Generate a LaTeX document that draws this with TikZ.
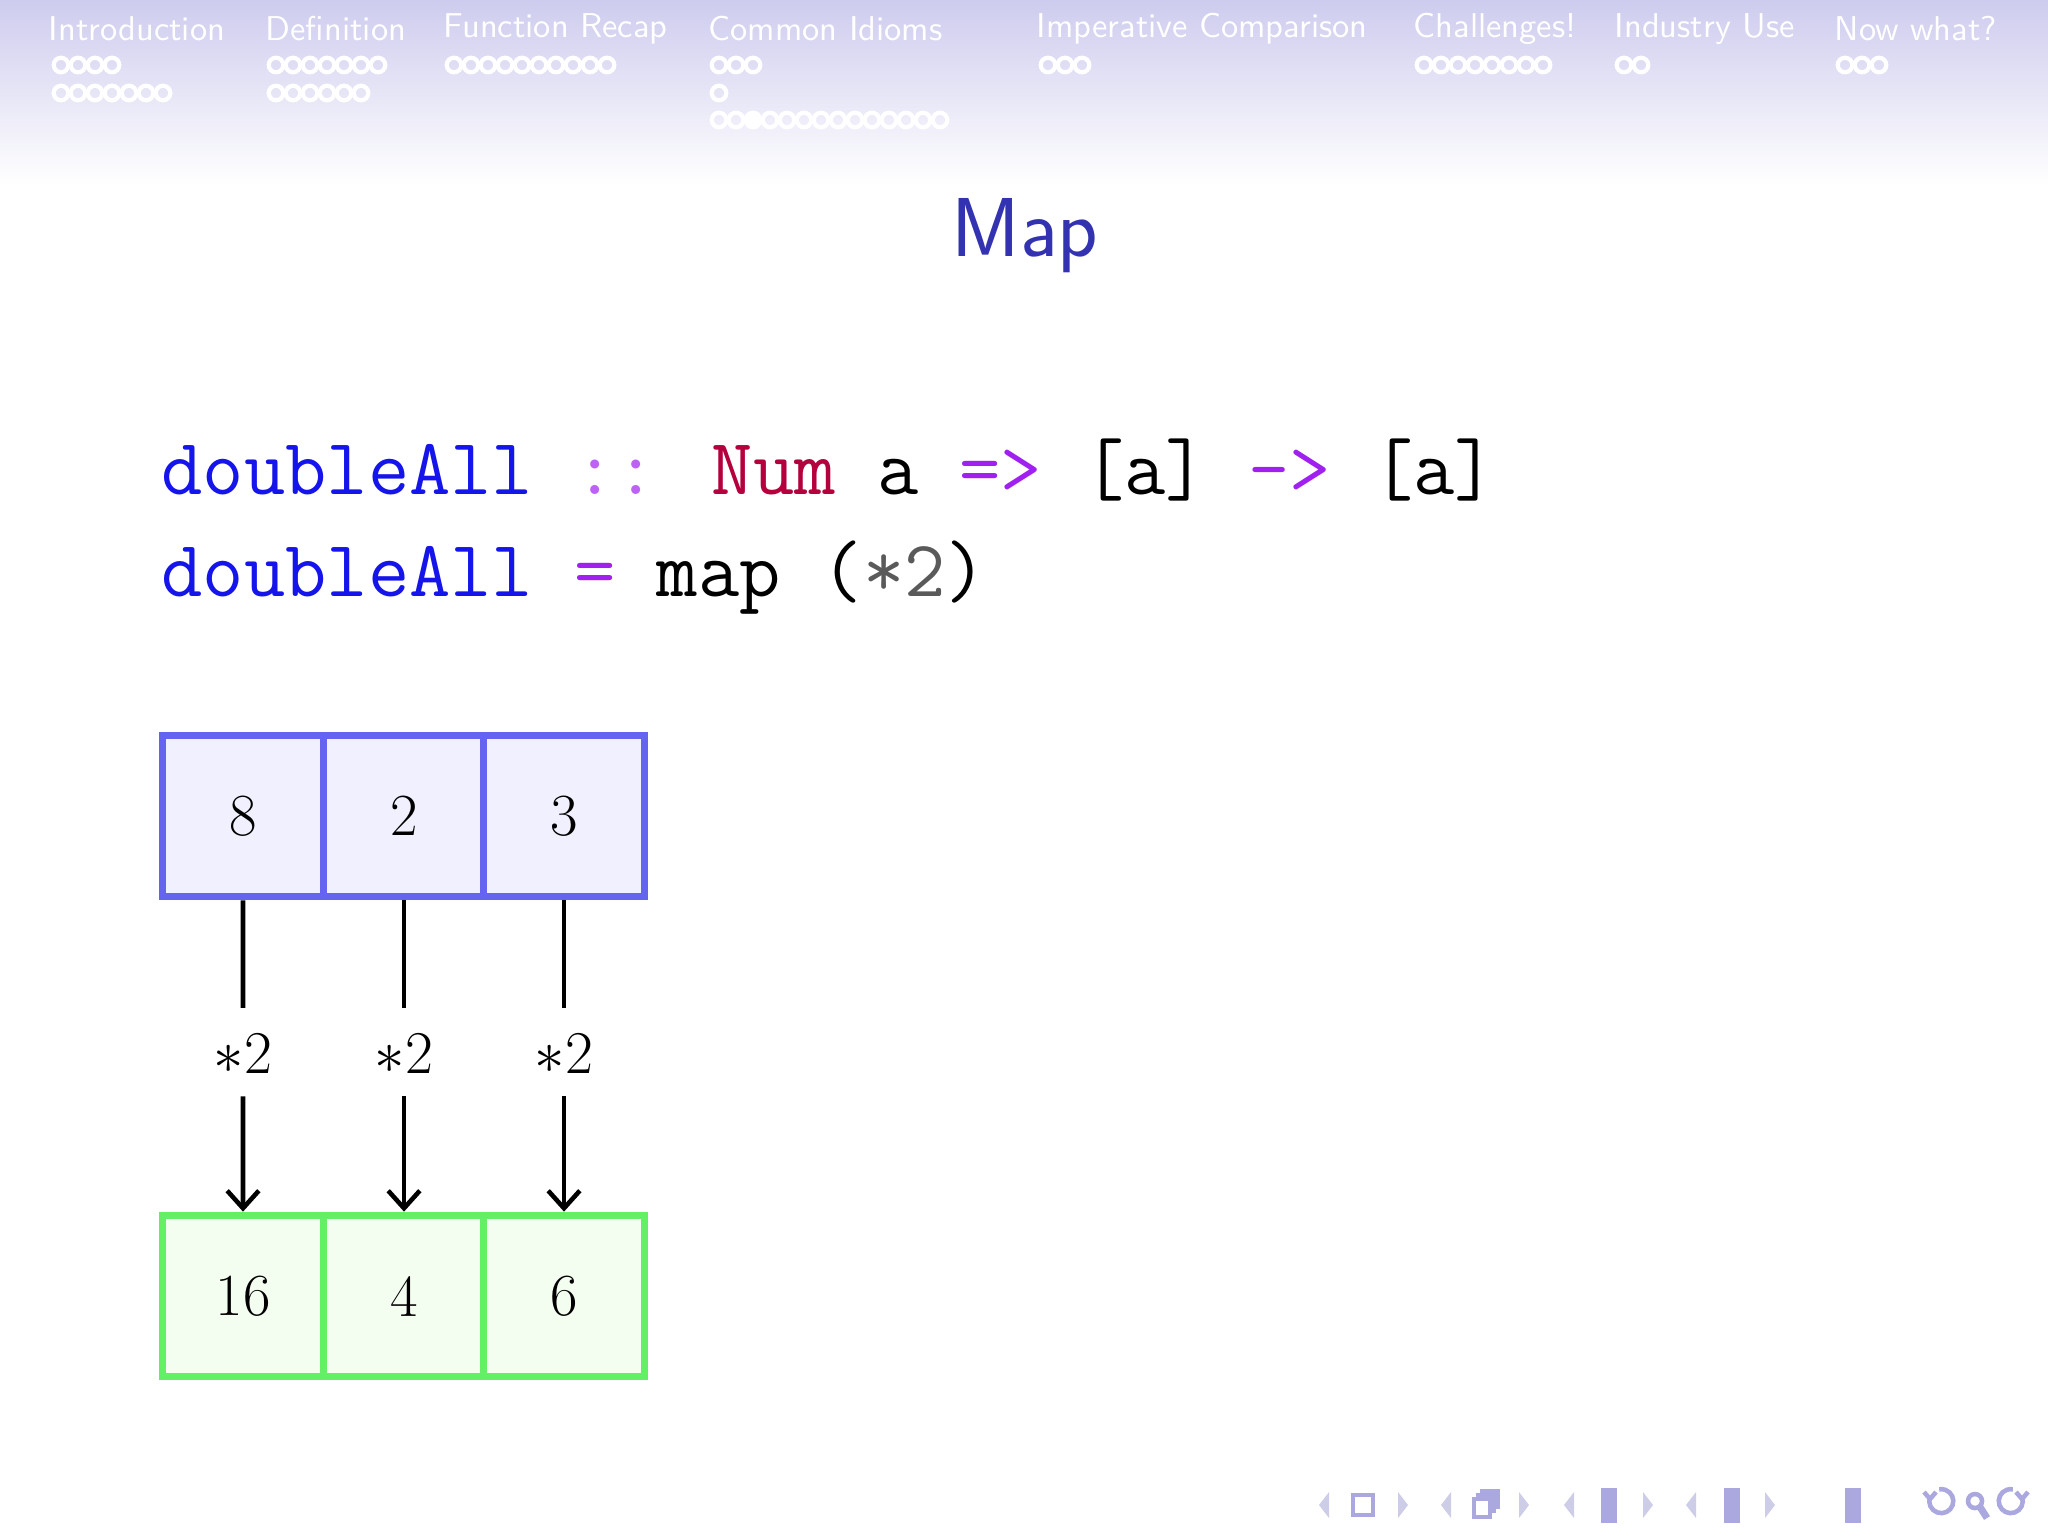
\documentclass[tikz,border=0pt]{standalone}
\usepackage{fontspec}
\usetikzlibrary{calc,arrows.meta}
\definecolor{hdr}{RGB}{206,204,238}
\definecolor{ttl}{RGB}{51,51,178}
\definecolor{kwblue}{RGB}{20,20,235}
\definecolor{kwnum}{RGB}{180,0,60}
\definecolor{kwsym}{RGB}{160,32,240}
\definecolor{gr}{RGB}{90,90,90}
\definecolor{bbord}{RGB}{100,100,240}
\definecolor{bfill}{RGB}{240,240,254}
\definecolor{gbord}{RGB}{100,240,100}
\definecolor{gfill}{RGB}{244,254,240}
\definecolor{navA}{RGB}{205,205,232}
\definecolor{navB}{RGB}{170,168,222}
\begin{document}
\begin{tikzpicture}[x=0.1mm,y=-0.1mm,
  sec/.style={anchor=west,text=white,font=\sffamily\fontsize{9.8}{11}\selectfont,inner sep=0},
  dot/.style={draw=white,line width=1.2pt},
  bcell/.style={draw=bbord,fill=bfill,line width=2.2pt,minimum width=16.1mm,minimum height=16.1mm,inner sep=0,font=\fontsize{17}{20}\selectfont},
  gcell/.style={draw=gbord,fill=gfill,line width=2.2pt,minimum width=16.1mm,minimum height=16.1mm,inner sep=0,font=\fontsize{17}{20}\selectfont},
  lab/.style={font=\fontsize{17}{20}\selectfont,inner sep=0},
  arr/.style={-{Straight Barb[length=5pt,width=9pt]},line width=1.3pt},
  navtri/.style={fill=navA},
  navl/.style={draw=navB,line width=1.3pt}]
\useasboundingbox (0,0) rectangle (2048,1536);
\shade[top color=hdr,bottom color=white] (0,0) rectangle (2048,185);
% section titles
\node[sec] (s1) at (48,29) {Introduction};
\node[sec] (s2) at (265,29) {Definition};
\node[sec] (s3) at (443,29) {Function Recap};
\node[sec] (s4) at (708,29) {Common Idioms};
\node[sec] (s5) at (1036,29) {Imperative Comparison};
\node[sec] (s6) at (1413,29) {Challenges!};
\node[sec] (s7) at (1614,29) {Industry Use};
\node[sec] (s8) at (1834,29) {Now what?};
\newcommand\dotrow[3]{\foreach \i in {1,...,#3}{\draw[dot] ({#1+7+(\i-1)*17},#2) circle[radius=7.3];}}
\dotrow{54}{65}{4}\dotrow{54}{93}{7}
\dotrow{269}{65}{7}\dotrow{269}{93}{6}
\dotrow{447}{65}{10}
\dotrow{712}{65}{3}\dotrow{712}{93}{1}\dotrow{712}{120}{14}
\fill[white] (712+7+2*17,120) circle[radius=8];
\dotrow{1041}{65}{3}
\dotrow{1417}{65}{8}
\dotrow{1617}{65}{2}
\dotrow{1838}{65}{3}
% title
\node[text=ttl,font=\sffamily\fontsize{23.8}{28}\selectfont] (title) at (1025,236) {Map};
% code
\node[anchor=base west,inner sep=0,font=\ttfamily\fontsize{22.8}{26}\selectfont] (c1) at (161,494)
 {\textcolor{kwblue}{doubleAll} \textcolor{kwsym!70}{::} \textcolor{kwnum}{Num} a \textcolor{kwsym}{=>} [a] \textcolor{kwsym}{->} [a]};
\node[anchor=base west,inner sep=0,font=\ttfamily\fontsize{22.8}{26}\selectfont] (c2) at (161,596)
 {\textcolor{kwblue}{doubleAll} \textcolor{kwsym}{=} map (\textcolor{gr}{*2})};
% cells
\node[bcell] (a1) at (243,816) {8};
\node[bcell] (a2) at (404,816) {2};
\node[bcell] (a3) at (564,816) {3};
\node[gcell] (b1) at (243,1296) {16};
\node[gcell] (b2) at (404,1296) {4};
\node[gcell] (b3) at (564,1296) {6};
\foreach \k in {1,2,3}{
  \node[lab] (l\k) at ($(a\k)!0.5!(b\k)+(0,-2)$) {$*2$};
  \draw[line width=1.3pt] (a\k.south) -- ($(l\k.north)+(0,-26)$);
  \draw[arr] ($(l\k.south)+(0,22)$) -- (b\k.north);
}
% navigation symbols
\foreach \x in {1324,1446,1569,1691}{\fill[navtri] (\x+5,1492)--(\x-5,1505)--(\x+5,1518)--cycle;}
\foreach \x in {1403,1524,1648,1770}{\fill[navtri] (\x-5,1492)--(\x+5,1505)--(\x-5,1518)--cycle;}
\draw[navl] (1353,1495) rectangle (1373,1515);
\draw[navl] (1474,1499) rectangle (1490,1517);
\draw[navl] (1478,1499)--(1478,1495)--(1494,1495)--(1494,1511)--(1490,1511);
\draw[navl] (1482,1495)--(1482,1491)--(1498,1491)--(1498,1507)--(1494,1507);
\foreach \x/\c in {1609/navA,1732/navB,1853/navB}{
 \foreach \yy in {1491,1498,1505,1512,1519}{\draw[navB,line width=2pt] (\x-8,\yy) -- (\x+8,\yy);}}
\draw[navl] (1930,1497) arc[start angle=200,end angle=-100,radius=12];
\draw[navl] (1924,1492)--(1930,1499)--(1936,1492);
\draw[navl] (1975,1501) circle[radius=7];
\draw[navl,line width=2pt] (1980,1507)--(1987,1518);
\draw[navl] (2022,1497) arc[start angle=-20,end angle=280,radius=12];
\draw[navl] (2016,1492)--(2022,1499)--(2028,1492);
\end{tikzpicture}
\end{document}
